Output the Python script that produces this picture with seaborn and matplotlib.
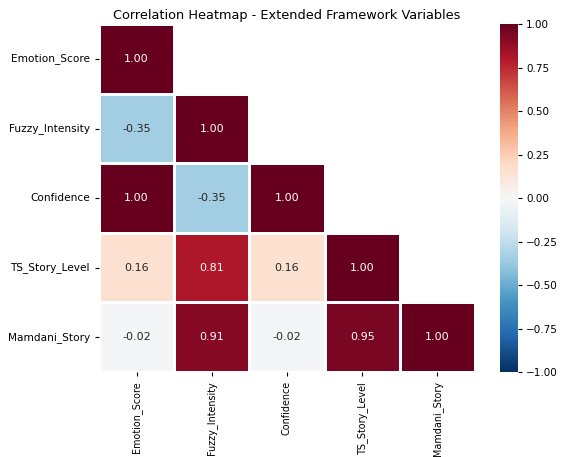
import numpy as np
import pandas as pd
import matplotlib
matplotlib.use("Agg")
import matplotlib.pyplot as plt
import seaborn as sns

variables = ["Emotion_Score", "Fuzzy_Intensity", "Confidence", "TS_Story_Level", "Mamdani_Story"]

# Lower-triangle correlation values, row by row
row_emotion = [1.00]
row_fuzzy = [-0.35, 1.00]
row_confidence = [1.00, -0.35, 1.00]
row_ts_story = [0.16, 0.81, 0.16, 1.00]
row_mamdani = [-0.02, 0.91, -0.02, 0.95, 1.00]

colorbar_ticks = [-1, -0.75, -0.5, -0.25, 0, 0.25, 0.5, 0.75, 1]

rows = [row_emotion, row_fuzzy, row_confidence, row_ts_story, row_mamdani]
n = len(variables)
corr = np.eye(n)
for i, r in enumerate(rows):
    for j, v in enumerate(r):
        corr[i, j] = v
        corr[j, i] = v
corr_df = pd.DataFrame(corr, index=variables, columns=variables)

mask = np.triu(np.ones_like(corr, dtype=bool), k=1)

fig = plt.figure(figsize=(5.61, 4.57), dpi=100)
ax = fig.add_axes([0.1765, 0.186, 0.670, 0.761])
cax = fig.add_axes([0.891, 0.186, 0.033, 0.761])

sns.heatmap(
    corr_df, mask=mask, cmap="RdBu_r", vmin=-1, vmax=1, center=0,
    annot=True, fmt=".2f", annot_kws={"size": 8},
    linewidths=0.8, linecolor="white", ax=ax, cbar_ax=cax,
)
ax.set_title("Correlation Heatmap - Extended Framework Variables", fontsize=9.3, pad=4)
ax.tick_params(axis="y", labelsize=7.6, length=3)
ax.tick_params(axis="x", labelsize=6.9, length=3)
plt.setp(ax.get_xticklabels(), rotation=90)
plt.setp(ax.get_yticklabels(), rotation=0)
cax.tick_params(labelsize=7.5, length=3, pad=2.5)
cax.set_yticks(colorbar_ticks)
cax.set_yticklabels([f"{t:.2f}".replace("-", "\u2212") for t in colorbar_ticks])
for s in cax.spines.values():
    s.set_visible(False)

fig.savefig("out.png", dpi=100)
